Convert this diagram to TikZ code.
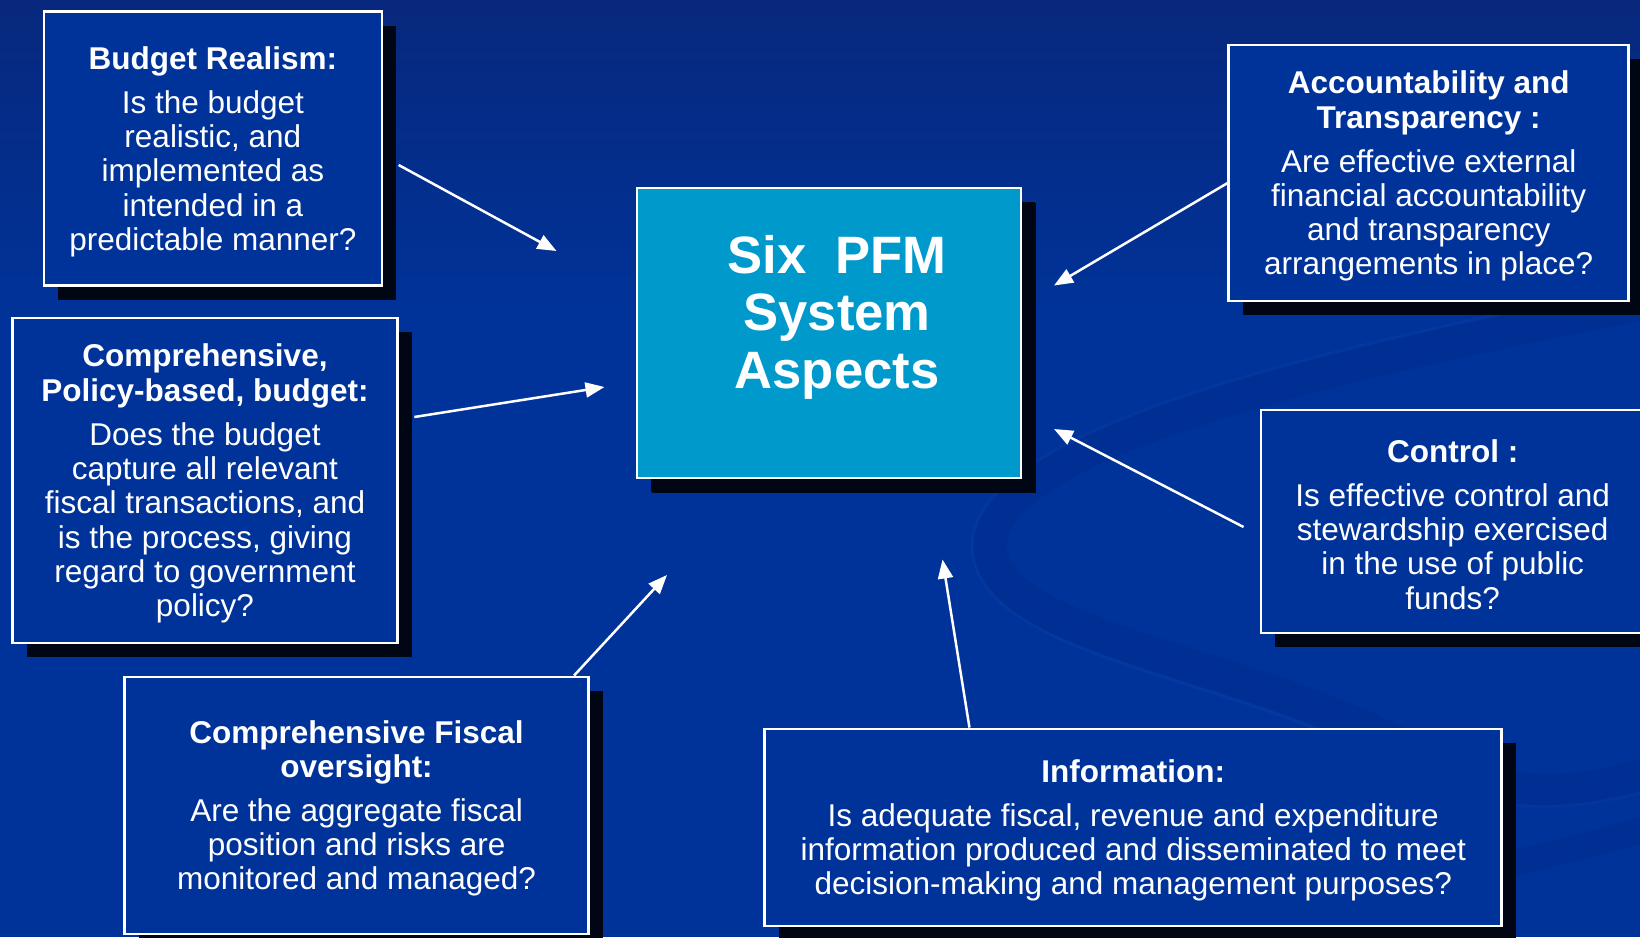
\documentclass[tikz,border=0pt]{standalone}
\usepackage{fontspec}
\setmainfont{Liberation Sans}
\usetikzlibrary{arrows.meta,shadows,calc}

\definecolor{bgtop}{RGB}{8,40,125}
\definecolor{bgbase}{RGB}{0,51,153}
\definecolor{boxblue}{RGB}{0,51,153}
\definecolor{hubcyan}{RGB}{0,153,204}
\definecolor{shadowc}{RGB}{0,6,20}
\definecolor{swooshdark}{RGB}{0,42,138}
\definecolor{swooshlight}{RGB}{14,66,170}

% taller first line, so the text block sits a little lower in its panel
\newcommand{\firststrut}{\rule{0pt}{29pt}}

\tikzset{
  panel/.style={draw=white, line width=2.5pt, fill=boxblue, text=white,
    align=center, inner sep=0pt,
    font=\fontsize{31.5}{34.3}\selectfont,
    drop shadow={shadow xshift=14pt, shadow yshift=-14pt, fill=shadowc, opacity=1}},
  hub/.style={panel, fill=hubcyan,
    drop shadow={shadow xshift=15pt, shadow yshift=-15pt, fill=shadowc, opacity=1}},
  hubtext/.style={text=white, align=center, inner sep=0pt,
    font=\fontsize{52.6}{57.5}\selectfont\bfseries},
  flow/.style={draw=white, line width=2.5pt, -{Triangle[length=19pt,width=15pt]}},
}

\begin{document}
\begin{tikzpicture}[x=1pt,y=-1pt]
  \useasboundingbox (0,0) rectangle (1640,937);
  \clip (0,0) rectangle (1640,937);

  % background
  \fill[bgbase] (0,0) rectangle (1640,937);
  \shade[top color=bgtop, bottom color=bgbase] (0,0) rectangle (1640,320);

  % faint swoosh in the lower right
  \draw[swooshdark, line width=34pt, opacity=0.4, line cap=round]
    (1660,300) .. controls (1350,360) and (985,440) .. (990,548)
    .. controls (995,640) and (1250,660) .. (1420,755)
    .. controls (1500,800) and (1570,800) .. (1660,770);
  \draw[swooshlight, line width=3pt, opacity=0.35]
    (1660,282) .. controls (1350,342) and (968,425) .. (972,548)
    .. controls (978,660) and (1240,675) .. (1410,772)
    .. controls (1490,815) and (1570,815) .. (1660,787);
  \draw[swooshdark, line width=26pt, opacity=0.4]
    (1460,875) .. controls (1530,860) and (1590,845) .. (1660,825);

  % aspect panels
  \node[panel, minimum width=338pt, minimum height=274pt] (br) at (212.9,148.5)
    {\firststrut{\bfseries Budget Realism:}\\[9.7pt]Is the budget\\realistic, and\\implemented as\\intended in a\\predictable manner?};
  \node[panel, minimum width=385pt, minimum height=325pt] (cp) at (205,480.6)
    {\firststrut{\bfseries Comprehensive,}\\{\bfseries Policy-based, budget:}\\[9.7pt]Does the budget\\capture all relevant\\fiscal transactions, and\\is the process, giving\\regard to government\\policy?};
  \node[panel, minimum width=464pt, minimum height=257pt] (fo) at (356.6,805.3)
    {\firststrut{\bfseries Comprehensive Fiscal}\\{\bfseries oversight:}\\[9.7pt]Are the aggregate fiscal\\position and risks are\\monitored and managed?};
  \node[panel, minimum width=737pt, minimum height=197pt] (inf) at (1133.2,827.3)
    {\firststrut{\bfseries Information:}\\[9.7pt]Is adequate fiscal, revenue and expenditure\\information produced and disseminated to meet\\decision-making and management purposes?};
  \node[panel, minimum width=383pt, minimum height=223pt] (ctl) at (1452.7,521.4)
    {\firststrut{\bfseries Control :}\\[9.7pt]Is effective control and\\stewardship exercised\\in the use of public\\funds?};
  \node[panel, minimum width=400pt, minimum height=256pt] (acc) at (1428.7,173.1)
    {\firststrut{\bfseries Accountability and}\\{\bfseries Transparency :}\\[9.7pt]Are effective external\\financial accountability\\and transparency\\arrangements in place?};

  % central hub
  \node[hub, minimum width=384pt, minimum height=290pt] (hubbox) at (828.9,333.1) {};
  \node[hubtext] (hubtitle) at (837,317) {Six\ \ PFM\\System\\Aspects};

  % arrow tips around the hub
  \coordinate (t1) at (556.5,251);
  \coordinate (t2) at (604.5,387);
  \coordinate (t3) at (667,575);
  \coordinate (t4) at (942.5,559.5);
  \coordinate (t5) at (1054,429);
  \coordinate (t6) at (1054,285.5);

  % arrows
  \draw[flow] ($(br.east)+(15.5,16.5)$) -- (t1);
  \draw[flow] ($(cp.east)+(15.6,-63.6)$) -- (t2);
  \draw[flow] ($(fo.north east)+(-15.8,0)$) -- (t3);
  \draw[flow] ($(inf.north west)+(206,0)$) -- (t4);
  \draw[flow] ($(ctl.west)+(-16.4,5.6)$) -- (t5);
  \draw[flow] ($(acc.west)+(0,10)$) -- (t6);
\end{tikzpicture}
\end{document}
